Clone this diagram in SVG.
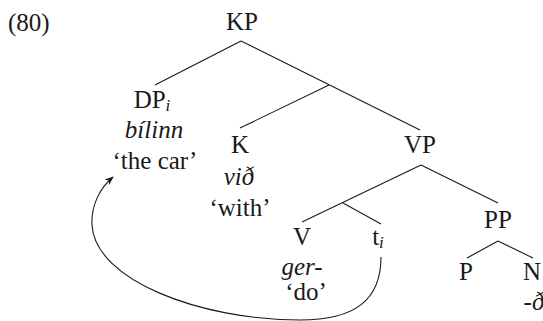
<svg xmlns="http://www.w3.org/2000/svg" width="543" height="321" viewBox="0 0 543 321">
<defs>
<style>
text{font-family:"Liberation Serif","Times New Roman",serif;font-size:25px;fill:#1a1a1a;text-anchor:middle}
.it{font-style:italic}
.sub{font-style:italic;font-size:17px}
.e{stroke:#1a1a1a;stroke-width:1.1;fill:none}
</style>
<marker id="ah" viewBox="0 0 10 10" refX="9" refY="5" markerWidth="9" markerHeight="9" markerUnits="userSpaceOnUse" orient="auto">
<path d="M0,1 L10,5 L0,9 L3,5 Z" fill="#1a1a1a"/>
</marker>
</defs>
<rect width="543" height="321" fill="#fff"/>
<text x="8" y="31" style="text-anchor:start">(80)</text>
<g id="connectors">
<line class="e" x1="241" y1="41" x2="155" y2="85"/>
<line class="e" x1="241" y1="41" x2="420" y2="130"/>
<line class="e" x1="329" y1="85" x2="240" y2="128"/>
<line class="e" x1="421" y1="165" x2="302" y2="222"/>
<line class="e" x1="421" y1="165" x2="498" y2="203"/>
<line class="e" x1="343" y1="203" x2="381" y2="224"/>
<line class="e" x1="498" y1="241" x2="467" y2="258"/>
<line class="e" x1="498" y1="241" x2="533" y2="258"/>
<path class="e" d="M381,257 C381,300 355,320 300,320 C200,320 95,280 92,225 C91,205 100,188 113,177" marker-end="url(#ah)"/>
</g>
<g id="KP"><text x="242" y="30">KP</text></g>
<g id="DP"><text x="152" y="108">DP<tspan class="sub" dy="3">i</tspan></text>
<text class="it" x="154" y="138">bílinn</text>
<text x="155" y="169">‘the car’</text></g>
<g id="K"><text x="240" y="153">K</text>
<text class="it" x="239" y="185">við</text>
<text x="240" y="216">‘with’</text></g>
<g id="VP"><text x="420" y="153">VP</text></g>
<g id="V"><text x="302" y="245">V</text>
<text class="it" x="302" y="275">ger-</text>
<text x="306" y="300">‘do’</text></g>
<g id="t"><text x="378" y="245">t<tspan class="sub" dy="3">i</tspan></text></g>
<g id="PP"><text x="498" y="228">PP</text></g>
<g id="P"><text x="466" y="280">P</text></g>
<g id="N"><text x="532" y="280">N</text>
<text class="it" x="534" y="310">-ð</text></g>
</svg>
